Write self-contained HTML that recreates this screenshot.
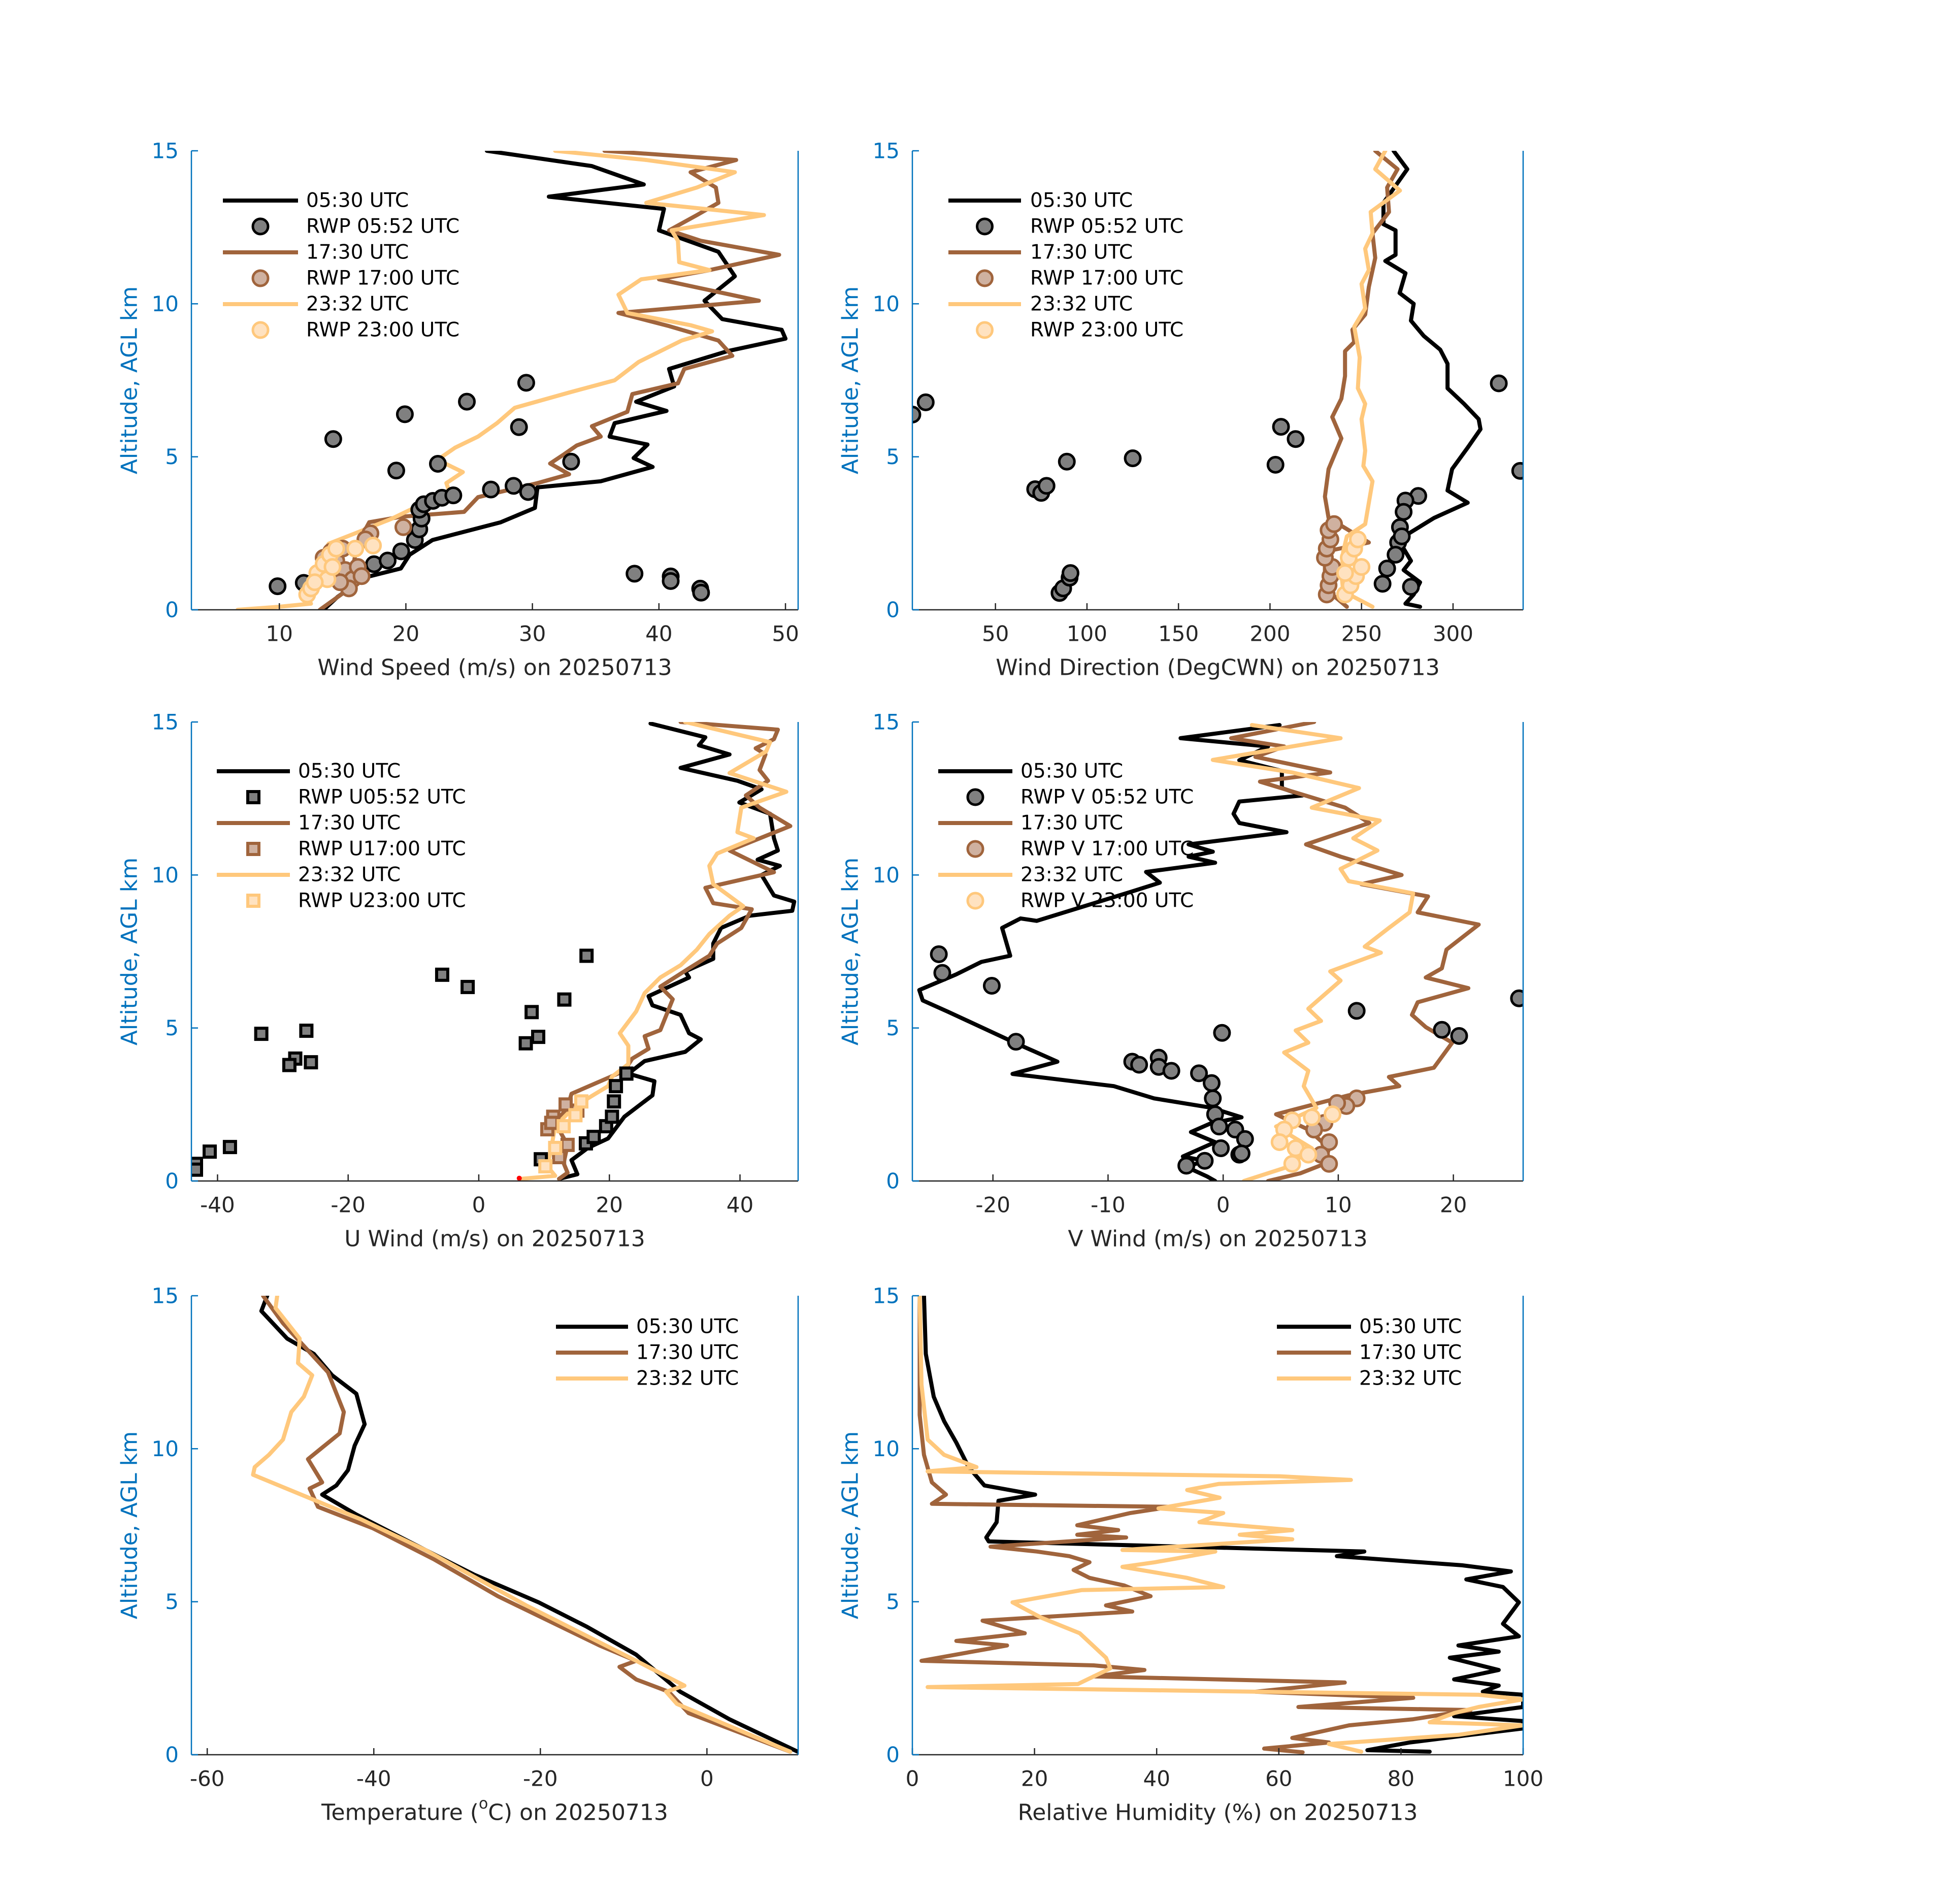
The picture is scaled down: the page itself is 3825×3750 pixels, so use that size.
<!DOCTYPE html>
<html><head><meta charset="utf-8"><title>Soundings 20250713</title>
<style>
html,body{margin:0;padding:0;background:#fff;}
svg{display:block;font-family:"DejaVu Sans","Liberation Sans",sans-serif;}
</style></head>
<body>
<svg id="fig" xmlns="http://www.w3.org/2000/svg" width="3825" height="3750" viewBox="0 0 3825 3750">
<rect x="0" y="0" width="3825" height="3750" fill="#fff"/>
</svg>
<script>
// ---------- Panel 1: wind speed ----------
const ws05Alt=[0,0.42,1.06,1.35,1.8,2.28,2.86,3.33,4.0,4.2,4.67,4.96,5.4,5.66,6.1,6.5,6.8,7.3,7.87,8.45,8.86,9.15,9.5,10.1,10.9,11.7,12.4,13.1,13.5,13.9,14.5,15];
const ws05=[13.5,14.6,16.8,19.6,20.3,22.1,27.5,30.2,30.4,35.4,39.5,38,39.1,36.1,36.5,40.6,38.2,41.2,40.8,45.4,50,49.7,45,43.6,46,44.7,40,40.4,31.3,38.8,34.7,26.4];
const ws17Alt=[0,0.65,1.1,1.8,2.4,2.86,3.04,3.2,3.68,4.14,4.43,4.78,5.08,5.37,5.66,6.0,6.47,7.05,7.4,7.87,8.3,8.8,9.27,9.7,10.1,10.8,11.1,11.6,12.06,12.4,12.9,13.3,13.8,14.3,14.7,15];
const ws17=[13.2,15.4,15.7,16,16.5,17.1,19.6,24.6,25.7,30.4,32.9,31.4,32.5,33.5,35.4,34.7,37.5,37.9,41.5,42,45.8,44.7,40.8,36.8,47.9,40,44,49.5,43.3,40.8,43,44.7,44.5,42.5,46.1,35.7];
const ws23Alt=[0,0.1,0.2,0.65,1.35,2.16,2.5,2.98,3.56,3.9,4.14,4.5,4.9,5.3,5.66,6.1,6.6,7.1,7.5,8.1,8.8,9.1,9.3,9.7,10.3,10.8,11.1,11.36,12.06,12.4,12.9,13.3,13.8,14.3,14.7,15];
const ws23=[6.7,10,12.5,11.9,12.8,13.9,16,18.9,21.8,23.4,23.2,24.5,22.5,23.9,25.7,27.2,28.6,32.9,36.5,38.4,41.8,44.2,42.5,37.5,36.8,38.6,44,41.6,41.5,41,48.3,39,43,46,39,31.8];
const rwp05Ws=[9.86,11.93,14.26,19.24,19.92,22.53,24.82,26.72,28.51,28.94,29.51,29.66,33.06,38.07,40.93,40.93,43.26,43.33,17.48,18.56,19.63,20.71,21.06,21.24,21.06,21.42,22.14,22.85,23.75];
const rwp05WsAlt=[0.77,0.88,5.58,4.55,6.39,4.77,6.80,3.93,4.05,5.97,7.42,3.85,4.84,1.18,1.09,0.94,0.69,0.56,1.49,1.61,1.91,2.28,2.63,2.98,3.27,3.45,3.56,3.66,3.74];
const rwp17Ws=[14.1,14.5,15.2,15.8,15.5,16.2,16.5,13.5,17.2,16.8,19.8,15.0,14.8];
const rwp17WsAlt=[1.9,1.6,1.3,1.0,0.7,1.4,1.1,1.7,2.5,2.3,2.7,2.0,0.9];
const rwp23Ws=[12.2,12.5,13.0,13.5,14.0,14.5,13.8,16.0,17.4,14.2,12.8];
const rwp23WsAlt=[0.5,0.7,1.2,1.5,1.8,2.0,1.0,2.0,2.1,1.4,0.9];
const wsTicks=[10,20,30,40,50];

// ---------- Panel 2: wind direction ----------
const wd05Alt=[0.1,0.2,0.5,0.9,1.3,1.6,2.3,2.5,3.0,3.5,3.9,4.6,5.3,5.9,6.23,6.73,7.24,8.04,8.5,8.95,9.45,10,10.35,11,11.4,11.6,12.4,12.6,13.3,14.4,15];
const wd05=[282,274,278.5,282,273,277,270,276,289.6,308,297,299.5,308,315,314,306,297,297,293,284,277,278.5,270.8,274,263,268.6,268.6,262,262,275,267.5];
const wd17Alt=[0.1,0.5,1.0,1.9,2.2,3.0,3.7,4.6,5.6,6.3,6.9,7.64,8.45,8.75,9.15,9.65,10.55,11.5,12.3,13,13.8,14.4,15];
const wd17=[242,234,230,230,254,232,230,232,239,234,239,241,241,246,245,252,254,257.5,256,265,264,269.7,257.5];
const wd23Alt=[0.1,0.6,1.2,1.9,2.4,2.8,4.2,4.7,5.2,6.23,6.73,7.24,8.25,9.25,9.85,10.65,11.1,11.8,12.3,13,13.7,14.4,15];
const wd23=[256,240,239,240,242,252,256,251,252,250,252,248,249,246,252,250,254,252,256,255,271,257.5,263];
const rwp05Wd=[4.6,11.9,206,214,203,125,89,71.7,75,77.9,85,87,90.5,91,325,336.7,281,274,273,271,270,268.6,264,261.5,277,272];
const rwp05WdAlt=[6.38,6.78,5.98,5.58,4.74,4.95,4.84,3.94,3.82,4.05,0.55,0.7,1.05,1.2,7.4,4.54,3.72,3.57,3.2,2.7,2.2,1.8,1.35,0.85,0.75,2.4];
const rwp17Wd=[231,232,233,234,230,231,233,232,235];
const rwp17WdAlt=[0.5,0.8,1.1,1.4,1.7,2.0,2.3,2.6,2.8];
const rwp23Wd=[241,244,247,250,243,246,248,241];
const rwp23WdAlt=[0.5,0.8,1.1,1.4,1.7,2.0,2.3,1.2];
const wdTicks=[50,100,150,200,250,300];

// ---------- Panel 3: U wind ----------
const u05Alt=[0.07,0.22,0.68,1.08,1.39,2.1,2.8,3.26,3.51,3.92,4.22,4.63,4.83,5.43,5.74,6.04,6.65,6.85,7.26,7.76,8.27,8.67,8.83,9.13,9.33,10,10.3,10.5,10.8,11.2,12,12.37,12.8,13.08,13.5,13.94,14.24,14.5,14.95];
const u05=[12.3,15.1,14.2,16.7,19.8,22.3,26.6,26.9,22.9,25.4,31.6,34,32.2,30.9,26.6,26,32.2,31.6,35.9,35.9,37.1,41.5,48,48.3,45.2,43.3,46.1,42.7,45.8,45.2,44.6,39.9,43.3,39.6,30.9,38.4,33.7,34.7,26.3];
const u17Alt=[0.07,0.27,0.58,1.18,1.9,2.4,2.85,3.6,4.0,4.32,4.73,4.93,5.94,6.35,6.95,7.36,7.76,8.27,8.88,9.08,9.58,10.09,10.8,11.6,12.2,12.6,13.08,13.43,13.94,14.14,14.44,14.75,15];
const u17=[12.3,13.6,13,13.6,11.7,13.6,14.2,22.3,23.5,26,25.4,27.8,29.7,27.8,32.2,35.3,36.5,40.2,41.8,35.9,34.7,45.2,38.4,47.7,43,40.9,44.3,43,43.9,42.4,45.2,45.8,30.9];
const u23Alt=[0.07,0.17,0.48,1.08,1.79,2.2,2.7,3.1,3.41,3.82,4.42,4.83,5.54,6.14,6.65,7.05,7.56,8.07,8.67,8.98,9.7,10.3,10.7,11.2,11.4,12.2,12.72,13.33,14.04,14.34,15];
const u23=[6.4,11.7,10.5,11.1,11.7,13.6,16.7,19.8,20.4,22.9,22.9,21.6,24.1,25.4,27.8,30.9,33.4,35.3,38.4,40.5,35.9,35.3,36.5,42.1,39.6,40.2,47.1,38.4,44,44.6,31.6];
const rwp05U=[16.5,-5.6,-1.7,13.1,8.1,9.1,7.2,-33.3,-26.4,-28.1,-29,-25.7,-38.1,-41.2,-43.3,-43.3,9.5,16.4,17.6,19.5,20.4,20.7,21,22.6];
const rwp05UAlt=[7.36,6.74,6.34,5.93,5.52,4.71,4.5,4.81,4.91,4.0,3.79,3.88,1.11,0.96,0.56,0.37,0.71,1.23,1.44,1.79,2.1,2.6,3.1,3.51];
const rwp17U=[10.5,11.4,13.3,13.6,12.3,15.1,11.1];
const rwp17UAlt=[1.69,2.1,2.5,1.18,0.78,2.3,1.9];
const rwp23U=[10.2,11.7,13,14.8,15.7];
const rwp23UAlt=[0.48,1.08,1.79,2.15,2.6];
const uTicks=[-40,-20,0,20,40];

// ---------- Panel 4: V wind ----------
const v05Alt=[0,0.15,0.46,0.66,0.8,1.27,1.6,1.88,2.08,2.4,2.7,3.1,3.5,3.9,4.5,4.92,5.53,5.9,6.24,6.75,7.16,7.36,8.27,8.58,8.5,9.44,9.75,10.1,10.4,10.6,10.76,11.0,11.4,11.7,12.0,12.4,12.6,12.84,13.4,13.75,14.2,14.47,14.9];
const v05=[-0.7,-1.4,-3.2,-1.6,-3.5,-0.7,-2.8,-1.1,1.6,-1.1,-6,-9.5,-18.3,-14.4,-18,-20.4,-23.9,-26.1,-26.4,-23.2,-21,-18.5,-19.2,-17.6,-16.2,-8.1,-5.5,-6.7,-0.7,-3,-0.9,-3,5.5,1.4,0.9,1.4,6.9,5.1,5.1,1.4,3.9,-3.7,4.9];
const v17Alt=[0,0.25,0.56,1.07,1.68,2.18,2.8,3.1,3.4,3.7,4.52,5.03,5.43,5.84,6.3,6.65,6.95,7.56,8.38,8.78,9.3,9.7,10,10.6,11,11.7,12.2,13.05,13.35,13.86,14.2,14.47,15];
const v17=[3.9,6.7,8.8,9.2,7.4,4.6,10.9,15.3,14.4,18.3,19.9,17.6,16.4,16.9,21.3,17.6,19,19.4,22.2,16.9,17.8,12,15.5,10.2,7.2,12.7,10.6,3.2,9.3,2.8,5.3,0.7,7.9];
const v23Alt=[0,0.46,1.07,1.78,2.39,3.1,3.6,4.2,4.52,4.92,5.23,5.63,6.55,6.85,7.46,7.66,8.27,8.78,9.4,9.8,10.2,10.8,11.2,11.78,12.2,12.84,13.35,13.76,14.47,14.9];
const v23=[1.8,5.6,7.7,4.6,8.1,7,7.4,5.3,7.4,6.3,8.5,7.4,10.2,9.3,13.7,12.3,14.4,16.2,16.5,10.9,10.2,13.4,11.3,13.6,7.7,11.8,6,-0.9,10.2,2.5];
const rwp05V=[-24.7,-24.4,-20.1,-18,-7.9,-7.3,-5.6,-5.6,-4.5,-0.1,11.6,19,20.5,25.7,-2.1,-1,-0.9,-0.7,-0.35,1.05,1.9,1.4,-0.2,-1.6,-3.2,1.6];
const rwp05VAlt=[7.41,6.8,6.38,4.55,3.9,3.8,4.03,3.73,3.6,4.84,5.56,4.94,4.74,5.97,3.52,3.2,2.7,2.18,1.78,1.68,1.37,0.86,1.07,0.66,0.5,0.9];
const rwp17V=[11.6,10.7,9.9,9.2,8.8,8.5,9.2,7.9];
const rwp17VAlt=[2.7,2.45,2.55,1.27,1.9,0.86,0.56,1.68];
const rwp23V=[9.5,7.7,6,5.3,6.3,7.4,6,4.9];
const rwp23VAlt=[2.18,2.08,1.98,1.68,1.07,0.86,0.56,1.27];
const vTicks=[-20,-10,0,10,20];

// ---------- Panel 5: temperature ----------
const t05Alt=[0.1,1.16,2.06,3.27,4.18,4.98,5.89,6.69,7.85,8.5,8.8,9.3,10.1,10.8,11.8,12.4,13.1,13.6,14.5,15];
const t05=[10.9,2.7,-3.2,-8.5,-14.4,-20.2,-28,-33.8,-42.1,-46.2,-44.5,-43.1,-42.3,-41.1,-42.1,-45,-47.2,-50.4,-53.5,-52.8];
const t17Alt=[0.1,1.36,2.06,2.46,2.87,3.07,3.57,5.18,6.39,7.4,8.1,8.7,8.9,9.66,10.5,11.2,12.5,14.1,15];
const t17=[10,-2.2,-4.6,-8.5,-10.5,-8.5,-12.9,-25.1,-32.8,-40.1,-46.7,-47.7,-46.2,-47.9,-44.1,-43.6,-45.5,-50.9,-53.3];
const t23Alt=[0.1,1.66,2.06,2.26,3.07,4.88,6.69,7.7,9.15,9.4,9.8,10.3,11.2,11.7,12.4,12.8,13.6,14.6,15];
const t23=[10,-3.6,-4.9,-2.7,-8.5,-21.7,-33.8,-41.6,-54.5,-54.3,-52.6,-50.9,-49.9,-48.4,-47.4,-49.1,-48.9,-51.8,-51.6];
const tTicks=[-60,-40,-20,0];

// ---------- Panel 6: relative humidity ----------
const rh05Alt=[0.1,0.15,0.4,0.65,0.86,1.1,1.26,1.56,1.96,2.06,2.26,2.46,2.77,3.17,3.37,3.57,3.87,4.28,4.98,5.48,5.73,5.99,6.19,6.49,6.64,6.97,7.1,7.6,8.3,8.5,8.8,9.4,10.2,10.9,11.7,13.1,15];
const rh05=[84.7,74.5,81.4,91.4,100,100,88.7,100,100,93.4,96,88.7,96,88,96,89.4,99.3,96.7,99.3,96.7,90.7,98,90,69.5,74,12.5,12.1,13.8,14.1,20.1,11.8,9.2,7.2,5.2,3.5,2.2,1.9];
const rh17Alt=[0.08,0.2,0.4,0.55,0.96,1.16,1.46,1.56,1.86,2.06,2.36,2.56,2.77,2.92,3.07,3.57,3.72,3.97,4.38,4.68,4.88,5.18,5.53,5.78,6.04,6.29,6.49,6.64,6.8,7.1,7.19,7.34,7.5,7.9,8.1,8.2,8.5,8.9,9.8,11.1,15];
const rh17=[63.9,57.6,68.2,62.2,71.5,82,91.4,63.2,82,56.2,70.8,29.7,38,29.7,1.5,15.5,7.2,18.4,11.5,36,31.7,39,34.7,29,26.4,29,25.7,20.4,12.8,35,27,33.7,27,35.7,42.3,3.2,5.5,3.2,1.9,1.2,1.2];
const rh23Alt=[0.1,0.35,0.65,0.96,1.06,1.36,1.56,1.81,1.96,2.21,2.31,2.82,3.17,3.97,4.48,4.98,5.38,5.48,5.78,6.14,6.29,6.64,6.69,7.04,7.19,7.34,7.6,7.9,8.05,8.4,8.65,8.85,8.98,9.1,9.26,9.4,9.8,10.3,12.1,15];
const rh23=[73.5,68.2,89.4,100,84.7,88.7,92.7,100,92.7,2.5,27.1,32.4,31.7,27.4,21.1,16.4,27.7,50.9,45,34.4,39.7,49.6,34.4,62.2,53.6,62.2,47,50.9,40.3,50.3,45,50.2,71.8,60.2,2.5,10.5,5.2,2.5,1.5,1.2];
const rhTicks=[0,20,40,60,80,100];

const altTicks=[0,5,10,15];

const NS="http://www.w3.org/2000/svg";
const svg=document.getElementById('fig');
const C_BLACK="#000000", C_BROWN="#A0643C", C_ORANGE="#FFC87C";
const F_BLACK="#808080", F_BROWN="#CFB1A0", F_ORANGE="#FFE2C0";
const BLUE="#0072BD", DARK="#262626";

function mk(tag,attrs,parent){
  const el=document.createElementNS(NS,tag);
  for(const k in attrs) el.setAttribute(k,attrs[k]);
  (parent||svg).appendChild(el);
  return el;
}

function makePanel(id,x0,y0,w,h,xmin,xmax){
  const p={x0,y0,w,h,xmin,xmax};
  p.sx=v=>x0+(v-xmin)/(xmax-xmin)*w;
  p.sy=a=>y0+h-(a/15)*h;
  const g=mk('g',{});
  
  
  p.g=g;
  const cp=mk('clipPath',{id:'clip-'+id},g);
  mk('rect',{x:x0,y:y0,width:w,height:h},cp);
  const dg=mk('g',{'clip-path':'url(#clip-'+id+')'},g);
  
  
  p.dg=dg;
  return p;
}

function drawAxes(p,xticks,xlabelHTML,name){
  const g=p.g;
  const xa=mk('line',{x1:p.x0,y1:p.y0+p.h,x2:p.x0+p.w,y2:p.y0+p.h,stroke:DARK,'stroke-width':2.5},g);
  
  
  for(const t of xticks){
    const x=p.sx(t);
    const tk=mk('line',{x1:x,y1:p.y0+p.h,x2:x,y2:p.y0+p.h-13,stroke:DARK,'stroke-width':2.5},g);
    
    
    const tl=mk('text',{x:x,y:p.y0+p.h+47,'text-anchor':'middle','dominant-baseline':'central','font-size':42,fill:DARK},g);
    tl.textContent=String(t);
    
    
  }
  const ya=mk('line',{x1:p.x0,y1:p.y0,x2:p.x0,y2:p.y0+p.h,stroke:BLUE,'stroke-width':2.5},g);
  
  
  const yr=mk('line',{x1:p.x0+p.w,y1:p.y0,x2:p.x0+p.w,y2:p.y0+p.h,stroke:BLUE,'stroke-width':2.5},g);
  
  
  for(const a of altTicks){
    const y=p.sy(a);
    const tk=mk('line',{x1:p.x0,y1:y,x2:p.x0+13,y2:y,stroke:BLUE,'stroke-width':2.5},g);
    
    
    const tl=mk('text',{x:p.x0-25,y:y,'text-anchor':'end','dominant-baseline':'central','font-size':42,fill:BLUE},g);
    tl.textContent=String(a);
    
    
  }
  const yt=mk('text',{x:0,y:0,'text-anchor':'middle','dominant-baseline':'central','font-size':44,fill:BLUE,transform:'translate('+(p.x0-122)+','+(p.y0+p.h/2)+') rotate(-90)'},g);
  yt.textContent='Altitude, AGL km';
  
  
  const xt=mk('text',{x:p.x0+p.w/2,y:p.y0+p.h+114,'text-anchor':'middle','dominant-baseline':'central','font-size':44,fill:DARK},g);
  xt.innerHTML=xlabelHTML;
  
  
}

function drawLine(p,vals,alts,color,name){
  let d='';
  for(let i=0;i<vals.length;i++){
    d+=(i?'L':'M')+p.sx(vals[i]).toFixed(1)+','+p.sy(alts[i]).toFixed(1);
  }
  const el=mk('path',{d:d,fill:'none',stroke:color,'stroke-width':8,'stroke-linejoin':'round','stroke-linecap':'round'},p.dg);
  
  
}

function drawMarkers(p,vals,alts,fill,edge,shape,name){
  for(let i=0;i<vals.length;i++){
    const x=p.sx(vals[i]), y=p.sy(alts[i]);
    let el;
    if(shape==='square'){
      el=mk('rect',{x:x-11,y:y-11,width:22,height:22,fill:fill,stroke:edge,'stroke-width':6},p.dg);
    } else {
      el=mk('circle',{cx:x,cy:y,r:15,fill:fill,stroke:edge,'stroke-width':5},p.dg);
    }
    
    
  }
}

function drawLegend(p,entries,lx1,lx2,tx,ty,name){
  const lg=mk('g',{},p.g);
  
  
  entries.forEach((e,i)=>{
    const y=ty+i*51;
    if(e.type==='line'){
      const l=mk('line',{x1:lx1,y1:y,x2:lx2,y2:y,stroke:e.color,'stroke-width':8},lg);
      
      
    } else if(e.type==='square'){
      const m=mk('rect',{x:(lx1+lx2)/2-11,y:y-11,width:22,height:22,fill:e.fill,stroke:e.color,'stroke-width':6},lg);
      
      
    } else {
      const m=mk('circle',{cx:(lx1+lx2)/2,cy:y,r:15,fill:e.fill,stroke:e.color,'stroke-width':5},lg);
      
      
    }
    const t=mk('text',{x:tx,y:y,'dominant-baseline':'central','font-size':39,fill:'#000'},lg);
    t.textContent=e.label;
    
    
  });
}

const LX=377, LW=1195, RX=1797, RW=1203, H=904;
const ROW=[297,1422,2552];

function sixEntries(l2,l4,l6,shape){
  return [
    {type:'line',color:C_BLACK,label:'05:30 UTC'},
    {type:shape,color:C_BLACK,fill:F_BLACK,label:l2},
    {type:'line',color:C_BROWN,label:'17:30 UTC'},
    {type:shape,color:C_BROWN,fill:F_BROWN,label:l4},
    {type:'line',color:C_ORANGE,label:'23:32 UTC'},
    {type:shape,color:C_ORANGE,fill:F_ORANGE,label:l6}];
}
const threeEntries=[
  {type:'line',color:C_BLACK,label:'05:30 UTC'},
  {type:'line',color:C_BROWN,label:'17:30 UTC'},
  {type:'line',color:C_ORANGE,label:'23:32 UTC'}];

const p1=makePanel('wind-speed-panel',LX,ROW[0],LW,H,3.05,51.0);
drawAxes(p1,wsTicks,'Wind Speed (m/s) on 20250713','wind-speed');
drawLine(p1,ws05,ws05Alt,C_BLACK,'wind-speed-0530-line');
drawLine(p1,ws17,ws17Alt,C_BROWN,'wind-speed-1730-line');
drawLine(p1,ws23,ws23Alt,C_ORANGE,'wind-speed-2332-line');
drawMarkers(p1,rwp05Ws,rwp05WsAlt,F_BLACK,C_BLACK,'circle','rwp-0552-speed-point');
drawMarkers(p1,rwp17Ws,rwp17WsAlt,F_BROWN,C_BROWN,'circle','rwp-1700-speed-point');
drawMarkers(p1,rwp23Ws,rwp23WsAlt,F_ORANGE,C_ORANGE,'circle','rwp-2300-speed-point');
drawLegend(p1,sixEntries('RWP 05:52 UTC','RWP 17:00 UTC','RWP 23:00 UTC','circle'),439,587,603,395,'wind-speed-legend');

const p2=makePanel('wind-direction-panel',RX,ROW[0],RW,H,4.6,338.3);
drawAxes(p2,wdTicks,'Wind Direction (DegCWN) on 20250713','wind-direction');
drawLine(p2,wd05,wd05Alt,C_BLACK,'wind-direction-0530-line');
drawLine(p2,wd17,wd17Alt,C_BROWN,'wind-direction-1730-line');
drawLine(p2,wd23,wd23Alt,C_ORANGE,'wind-direction-2332-line');
drawMarkers(p2,rwp05Wd,rwp05WdAlt,F_BLACK,C_BLACK,'circle','rwp-0552-direction-point');
drawMarkers(p2,rwp17Wd,rwp17WdAlt,F_BROWN,C_BROWN,'circle','rwp-1700-direction-point');
drawMarkers(p2,rwp23Wd,rwp23WdAlt,F_ORANGE,C_ORANGE,'circle','rwp-2300-direction-point');
drawLegend(p2,sixEntries('RWP 05:52 UTC','RWP 17:00 UTC','RWP 23:00 UTC','circle'),1868,2011,2029,395,'wind-direction-legend');

const p3=makePanel('u-wind-panel',LX,ROW[1],LW,H,-44,48.9);
drawAxes(p3,uTicks,'U Wind (m/s) on 20250713','u-wind');
drawLine(p3,u05,u05Alt,C_BLACK,'u-wind-0530-line');
drawLine(p3,u17,u17Alt,C_BROWN,'u-wind-1730-line');
drawLine(p3,u23,u23Alt,C_ORANGE,'u-wind-2332-line');
drawMarkers(p3,rwp05U,rwp05UAlt,F_BLACK,C_BLACK,'square','rwp-u-0552-point');
drawMarkers(p3,rwp17U,rwp17UAlt,F_BROWN,C_BROWN,'square','rwp-u-1700-point');
drawMarkers(p3,rwp23U,rwp23UAlt,F_ORANGE,C_ORANGE,'square','rwp-u-2300-point');
const red=mk('circle',{cx:p3.sx(6.2),cy:p3.sy(0.09),r:5,fill:'#ff0000'},p3.dg);


drawLegend(p3,sixEntries('RWP U05:52 UTC','RWP U17:00 UTC','RWP U23:00 UTC','square'),427,571,587,1519,'u-wind-legend');

const p4=makePanel('v-wind-panel',RX,ROW[1],RW,H,-27,26.06);
drawAxes(p4,vTicks,'V Wind (m/s) on 20250713','v-wind');
drawLine(p4,v05,v05Alt,C_BLACK,'v-wind-0530-line');
drawLine(p4,v17,v17Alt,C_BROWN,'v-wind-1730-line');
drawLine(p4,v23,v23Alt,C_ORANGE,'v-wind-2332-line');
drawMarkers(p4,rwp05V,rwp05VAlt,F_BLACK,C_BLACK,'circle','rwp-v-0552-point');
drawMarkers(p4,rwp17V,rwp17VAlt,F_BROWN,C_BROWN,'circle','rwp-v-1700-point');
drawMarkers(p4,rwp23V,rwp23VAlt,F_ORANGE,C_ORANGE,'circle','rwp-v-2300-point');
drawLegend(p4,sixEntries('RWP V 05:52 UTC','RWP V 17:00 UTC','RWP V 23:00 UTC','circle'),1848,1994,2010,1519,'v-wind-legend');

const p5=makePanel('temperature-panel',LX,ROW[2],LW,H,-61.9,10.95);
drawAxes(p5,tTicks,'Temperature (<tspan baseline-shift="super" font-size="30">o</tspan>C) on 20250713','temperature');
drawLine(p5,t05,t05Alt,C_BLACK,'temperature-0530-line');
drawLine(p5,t17,t17Alt,C_BROWN,'temperature-1730-line');
drawLine(p5,t23,t23Alt,C_ORANGE,'temperature-2332-line');
drawLegend(p5,threeEntries,1095,1237,1253,2613,'temperature-legend');

const p6=makePanel('humidity-panel',RX,ROW[2],RW,H,0,100);
drawAxes(p6,rhTicks,'Relative Humidity (%) on 20250713','humidity');
drawLine(p6,rh05,rh05Alt,C_BLACK,'humidity-0530-line');
drawLine(p6,rh17,rh17Alt,C_BROWN,'humidity-1730-line');
drawLine(p6,rh23,rh23Alt,C_ORANGE,'humidity-2332-line');
drawLegend(p6,threeEntries,2515,2661,2677,2613,'humidity-legend');
</script>
</body></html>
